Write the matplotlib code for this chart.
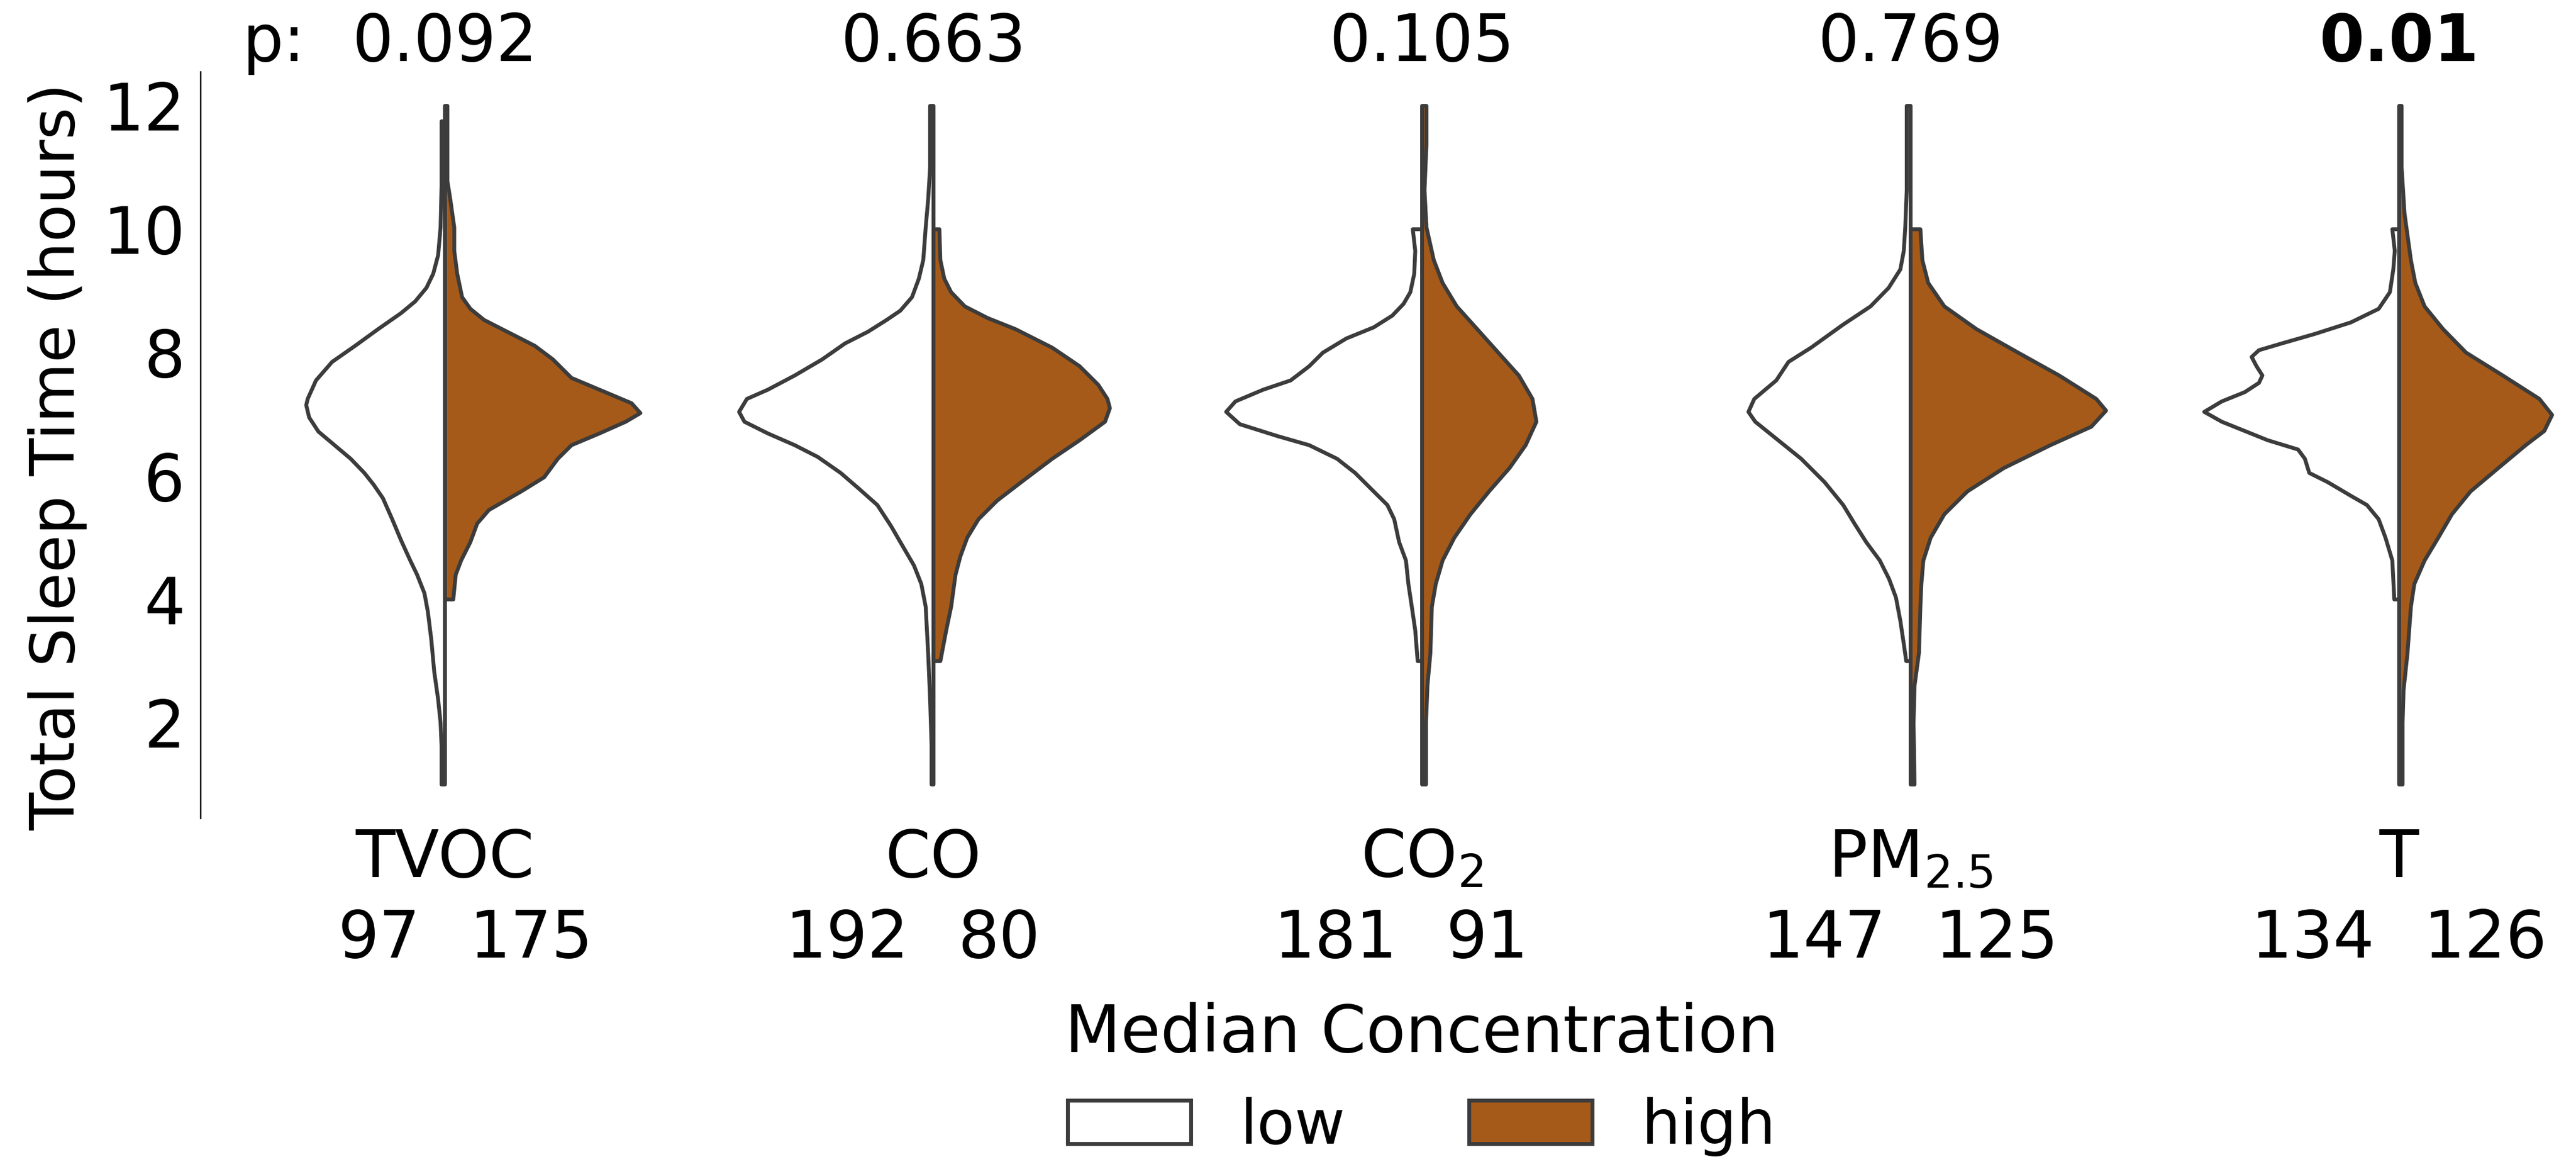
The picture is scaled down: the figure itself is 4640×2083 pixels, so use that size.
import numpy as np
import matplotlib
matplotlib.use("Agg")
import matplotlib.pyplot as plt
from matplotlib.patches import Patch

# categories and annotations
categories = ["TVOC", "CO", "CO$_2$", "PM$_{2.5}$", "T"]
p_values = ["0.092", "0.663", "0.105", "0.769", "0.01"]
p_bold = [False, False, False, False, True]
n_low = [97, 192, 181, 147, 134]
n_high = [175, 80, 91, 125, 126]

# half-violin profiles: sleep hours and half width
tvoc_low_h = [1.0, 1.63, 2.0, 2.38, 2.83, 3.35, 3.8, 4.1, 4.4, 4.63, 4.96, 5.3, 5.64, 5.86, 6.05, 6.28, 6.5,
              6.72, 6.95, 7.15, 7.25, 7.55, 7.85, 8.11, 8.38, 8.64, 8.83, 9.05, 9.28, 9.58, 10.03, 10.7, 11.75]
tvoc_low_w = [0.007, 0.007, 0.009, 0.014, 0.022, 0.028, 0.035, 0.042, 0.057, 0.071, 0.090, 0.108, 0.127, 0.146,
              0.165, 0.193, 0.226, 0.259, 0.278, 0.284, 0.281, 0.264, 0.231, 0.184, 0.137, 0.090, 0.061, 0.038,
              0.024, 0.014, 0.009, 0.007, 0.007]
tvoc_high_h = [4.0, 4.4, 4.63, 4.93, 5.23, 5.45, 5.75, 5.98, 6.28, 6.5, 6.69, 6.88, 7.02, 7.18, 7.4, 7.59, 7.89,
               8.11, 8.34, 8.53, 8.71, 8.9, 9.28, 9.65, 10.03, 10.48, 10.78, 12.0]
tvoc_high_w = [0.017, 0.022, 0.033, 0.052, 0.066, 0.090, 0.156, 0.203, 0.231, 0.259, 0.316, 0.370, 0.400, 0.382,
               0.316, 0.259, 0.221, 0.184, 0.127, 0.080, 0.052, 0.035, 0.025, 0.019, 0.019, 0.011, 0.005, 0.005]

co_low_h = [1.0, 1.63, 2.38, 3.13, 3.88, 4.25, 4.55, 4.93, 5.19, 5.53, 5.79, 6.05, 6.31, 6.5, 6.69, 6.88, 7.04,
            7.25, 7.4, 7.63, 7.89, 8.15, 8.34, 8.53, 8.68, 8.9, 9.2, 9.5, 10.03, 10.48, 11.0, 12.0]
co_low_w = [0.004, 0.004, 0.007, 0.011, 0.016, 0.025, 0.040, 0.068, 0.087, 0.115, 0.152, 0.190, 0.237, 0.284,
            0.339, 0.387, 0.398, 0.382, 0.339, 0.284, 0.228, 0.181, 0.134, 0.096, 0.068, 0.044, 0.030, 0.021,
            0.016, 0.011, 0.007, 0.007]
co_high_h = [3.0, 3.5, 3.88, 4.4, 4.7, 5.0, 5.3, 5.6, 5.94, 6.28, 6.58, 6.88, 7.1, 7.25, 7.48, 7.78, 8.08, 8.38,
             8.56, 8.75, 8.98, 9.2, 9.5, 10.0]
co_high_w = [0.014, 0.026, 0.036, 0.045, 0.055, 0.069, 0.092, 0.130, 0.186, 0.243, 0.299, 0.351, 0.361, 0.356,
             0.337, 0.299, 0.243, 0.168, 0.111, 0.064, 0.036, 0.022, 0.014, 0.012]

co2_low_h = [3.0, 3.5, 3.88, 4.25, 4.63, 4.93, 5.3, 5.53, 5.75, 6.05, 6.28, 6.5, 6.65, 6.84, 7.04, 7.21, 7.4,
             7.55, 7.78, 8.0, 8.23, 8.41, 8.6, 8.79, 8.98, 9.28, 9.65, 10.0]
co2_low_w = [0.009, 0.014, 0.021, 0.028, 0.033, 0.047, 0.057, 0.071, 0.099, 0.137, 0.174, 0.231, 0.297, 0.373,
             0.401, 0.382, 0.325, 0.269, 0.231, 0.203, 0.155, 0.099, 0.061, 0.038, 0.024, 0.016, 0.014, 0.019]
co2_high_h = [1.0, 2.0, 2.6, 3.13, 3.88, 4.25, 4.63, 5.0, 5.38, 5.75, 6.13, 6.5, 6.88, 7.25, 7.63, 8.0, 8.38,
              8.75, 9.13, 9.5, 10.03, 10.63, 11.38, 12.0]
co2_high_w = [0.008, 0.008, 0.011, 0.017, 0.020, 0.028, 0.042, 0.066, 0.099, 0.137, 0.179, 0.212, 0.234, 0.226,
              0.198, 0.156, 0.113, 0.071, 0.042, 0.024, 0.009, 0.005, 0.009, 0.009]

pm_low_h = [3.0, 3.28, 3.65, 4.03, 4.33, 4.63, 4.93, 5.23, 5.53, 5.9, 6.28, 6.58, 6.88, 7.04, 7.25, 7.55, 7.85,
            8.08, 8.45, 8.75, 9.05, 9.35, 9.65, 10.03, 10.63, 12.0]
pm_low_w = [0.009, 0.014, 0.021, 0.030, 0.044, 0.063, 0.091, 0.115, 0.138, 0.176, 0.224, 0.271, 0.318, 0.332,
            0.320, 0.275, 0.250, 0.204, 0.139, 0.082, 0.045, 0.021, 0.014, 0.011, 0.008, 0.008]
pm_high_h = [1.0, 2.0, 2.6, 3.13, 3.88, 4.25, 4.63, 5.0, 5.38, 5.75, 6.13, 6.5, 6.8, 7.06, 7.25, 7.63, 8.0, 8.38,
             8.75, 9.13, 9.5, 10.0]
pm_high_w = [0.008, 0.006, 0.008, 0.017, 0.020, 0.022, 0.026, 0.041, 0.069, 0.116, 0.191, 0.286, 0.370, 0.400,
             0.380, 0.304, 0.220, 0.135, 0.069, 0.036, 0.024, 0.020]

t_low_h = [4.0, 4.63, 5.0, 5.3, 5.53, 5.68, 5.9, 6.05, 6.28, 6.43, 6.58, 6.88, 7.04, 7.21, 7.36, 7.51, 7.63,
           7.78, 7.93, 8.04, 8.15, 8.3, 8.49, 8.71, 8.98, 9.35, 9.65, 10.0]
t_low_w = [0.010, 0.014, 0.028, 0.042, 0.066, 0.099, 0.146, 0.184, 0.193, 0.207, 0.269, 0.363, 0.399, 0.363,
           0.316, 0.287, 0.280, 0.292, 0.302, 0.287, 0.240, 0.174, 0.099, 0.042, 0.019, 0.012, 0.009, 0.014]
t_high_h = [1.0, 2.0, 2.53, 3.13, 3.88, 4.25, 4.63, 5.0, 5.38, 5.75, 6.13, 6.5, 6.73, 6.99, 7.25, 7.63, 8.0,
            8.38, 8.75, 9.13, 9.5, 10.25, 11.0, 12.0]
t_high_w = [0.007, 0.007, 0.009, 0.017, 0.024, 0.031, 0.052, 0.080, 0.108, 0.146, 0.203, 0.259, 0.297, 0.313,
            0.287, 0.212, 0.137, 0.090, 0.052, 0.033, 0.024, 0.011, 0.005, 0.005]

low_profiles = [(tvoc_low_h, tvoc_low_w), (co_low_h, co_low_w), (co2_low_h, co2_low_w),
                (pm_low_h, pm_low_w), (t_low_h, t_low_w)]
high_profiles = [(tvoc_high_h, tvoc_high_w), (co_high_h, co_high_w), (co2_high_h, co2_high_w),
                 (pm_high_h, pm_high_w), (t_high_h, t_high_w)]

low_color = "white"
high_color = "#a65a19"
edge_color = "#3c3c3c"
fs = 42
lw = 2.5

plt.rcParams["font.family"] = "DejaVu Sans"
plt.rcParams["mathtext.default"] = "regular"

fig = plt.figure(figsize=(23.2, 10.415), dpi=200)
ax = fig.add_axes([361 / 4640, 1 - 1473 / 2083, 4400 / 4640, 1344 / 2083])

for i, ((lh, lwid), (hh, hwid)) in enumerate(zip(low_profiles, high_profiles)):
    ax.fill_betweenx(lh, i - np.array(lwid), i, facecolor=low_color, edgecolor=edge_color,
                     lw=lw, joinstyle="round")
    ax.fill_betweenx(hh, i, i + np.array(hwid), facecolor=high_color, edgecolor=edge_color,
                     lw=lw, joinstyle="round")

ax.set_xlim(-0.5, 4.5)
ax.set_ylim(0.45, 12.55)
ax.set_xticks([])
ax.set_yticks([2, 4, 6, 8, 10, 12])
ax.tick_params(axis="y", length=0, pad=10, labelsize=fs)
for s in ["top", "right", "bottom"]:
    ax.spines[s].set_visible(False)
ax.spines["left"].set_linewidth(0.9)

fig.text(104 / 4640, 1 - 822 / 2083, "Total Sleep Time (hours)", rotation=90,
         ha="center", va="center", fontsize=40)

trans = ax.get_xaxis_transform()
ax.text(-0.35, 1.014, "p:", transform=trans, ha="center", va="baseline", fontsize=fs)
for i, cat in enumerate(categories):
    ax.text(i, 1.014, p_values[i], transform=trans, ha="center", va="baseline", fontsize=fs,
            fontweight="bold" if p_bold[i] else "normal")
    ax.text(i, -0.0789, cat, transform=trans, ha="center", va="baseline", fontsize=fs)
    ax.text(i - 0.05, -0.1868, str(n_low[i]), transform=trans, ha="right", va="baseline", fontsize=fs)
    ax.text(i + 0.05, -0.1868, str(n_high[i]), transform=trans, ha="left", va="baseline", fontsize=fs)

handles = [Patch(facecolor=low_color, edgecolor=edge_color, lw=lw),
           Patch(facecolor=high_color, edgecolor=edge_color, lw=lw)]
ax.legend(handles, ["low", "high"], title="Median Concentration", ncol=2, frameon=False,
          loc="upper center", bbox_to_anchor=(0.5, -0.172), fontsize=40, title_fontsize=fs)

fig.savefig("out.png", dpi=200)
